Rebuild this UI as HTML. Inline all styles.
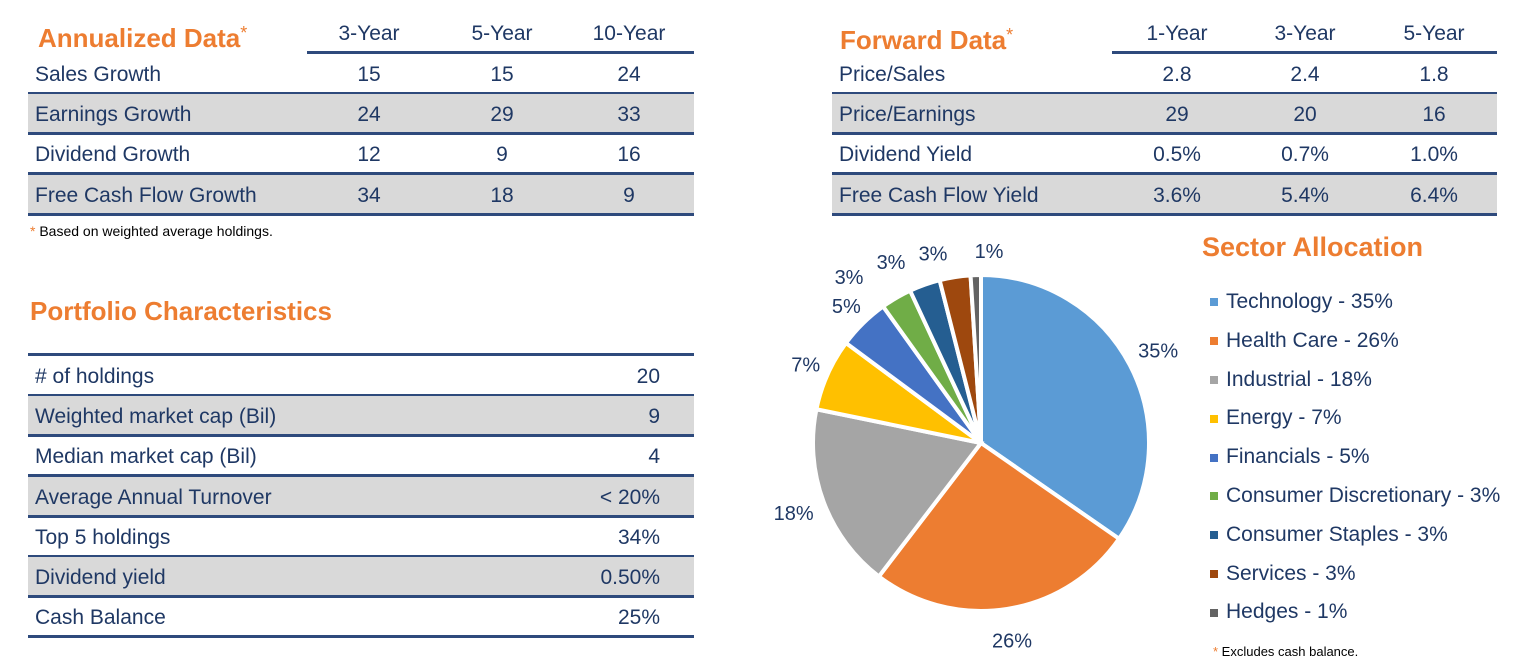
<!DOCTYPE html>
<html><head><meta charset="utf-8"><style>
body{margin:0;width:1526px;height:666px;background:#fff;font-family:"Liberation Sans",sans-serif;color:#1f3864;position:relative;overflow:hidden}
.abs{position:absolute}
.title{color:#ed7d31;font-weight:bold;font-size:26px}
.ast{color:#ed7d31;font-weight:normal;font-size:18px;vertical-align:top}
.row{position:absolute;height:38px;border-bottom:3px solid #2e4a7c;font-size:21px;line-height:42px}
.row.g{background:#d9d9d9}
.row span{position:absolute;top:0}
.c{transform:translateX(-50%)}
.hdr{position:absolute;font-size:21px}
</style></head><body>
<div class="abs title" style="left:38px;top:23px">Annualized Data<span class="ast">*</span></div>
<div class="abs" style="left:307px;top:51px;width:387px;height:3px;background:#2e4a7c"></div>
<div class="hdr c" style="left:369px;top:22px">3-Year</div>
<div class="hdr c" style="left:502px;top:22px">5-Year</div>
<div class="hdr c" style="left:629px;top:22px">10-Year</div>
<div id="ann"></div>
<div class="abs" style="left:30px;top:223px;font-size:14px;color:#000"><span style="color:#ed7d31">*</span> Based on weighted average holdings.</div>

<div class="abs title" style="left:840px;top:25px">Forward Data<span class="ast">*</span></div>
<div class="abs" style="left:1112px;top:51px;width:385px;height:3px;background:#2e4a7c"></div>
<div class="hdr c" style="left:1177px;top:22px">1-Year</div>
<div class="hdr c" style="left:1305px;top:22px">3-Year</div>
<div class="hdr c" style="left:1434px;top:22px">5-Year</div>
<div id="fwd"></div>

<div class="abs title" style="left:30px;top:296px">Portfolio Characteristics</div>
<div class="abs" style="left:28px;top:353px;width:666px;height:3px;background:#2e4a7c"></div>
<div id="port"></div>

<div class="abs title" style="left:1202px;top:232px;font-size:27px">Sector Allocation</div>
<svg class="abs" style="left:0;top:0" width="1526" height="666" id="pie"></svg>
<div id="legend"></div>
<div class="abs" style="left:1213px;top:644px;font-size:13px;color:#000"><span style="color:#ed7d31">*</span> Excludes cash balance.</div>

<script>
const annLabels=["Sales Growth","Earnings Growth","Dividend Growth","Free Cash Flow Growth"];
const ann3=["15","24","12","34"],ann5=["15","29","9","18"],ann10=["24","33","16","9"];
const fwdLabels=["Price/Sales","Price/Earnings","Dividend Yield","Free Cash Flow Yield"];
const fwd1=["2.8","29","0.5%","3.6%"],fwd3=["2.4","20","0.7%","5.4%"],fwd5=["1.8","16","1.0%","6.4%"];
const portLabels=["# of holdings","Weighted market cap (Bil)","Median market cap (Bil)","Average Annual Turnover","Top 5 holdings","Dividend yield","Cash Balance"];
const portValues=["20","9","4","< 20%","34%","0.50%","25%"];
const sectors=["Technology","Health Care","Industrial","Energy","Financials","Consumer Discretionary","Consumer Staples","Services","Hedges"];
const sectorValues=[35,26,18,7,5,3,3,3,1];
const sectorColors=["#5b9bd5","#ed7d31","#a5a5a5","#ffc000","#4472c4","#70ad47","#255e91","#9e480e","#636363"];

function table(id,left,width,top,labels,cols,xs,name){
  const host=document.getElementById(id);
  labels.forEach((l,i)=>{
    const r=document.createElement('div');
    r.className='row'+(i%2?' g':'');
    
    
    r.style.left=left+'px';r.style.width=width+'px';r.style.top=(top+i*40.2)+'px';
    const s=document.createElement('span');s.textContent=l;s.style.left='7px';
    
    
    r.appendChild(s);
    cols.forEach((c,j)=>{
      const v=document.createElement('span');v.textContent=c[i];
      
      
      if(xs[j]<0){v.style.right=(-xs[j])+'px';}else{v.className='c';v.style.left=(xs[j]-left)+'px';}
      r.appendChild(v);
    });
    host.appendChild(r);
  });
}
table('ann',28,666,54,annLabels,[ann3,ann5,ann10],[369,502,629],'annualized');
table('fwd',832,665,54,fwdLabels,[fwd1,fwd3,fwd5],[1177,1305,1434],'forward');
table('port',28,666,356,portLabels,[portValues],[-34],'portfolio');

const svg=document.getElementById('pie');const NS='http://www.w3.org/2000/svg';
const cx=981,cy=443,R=168;
const total=sectorValues.reduce((a,b)=>a+b,0);
let acc=0;
const pt=(a,r)=>[cx+r*Math.sin(a),cy-r*Math.cos(a)];
const labelPos=[];
sectorValues.forEach((v,i)=>{
  const a0=acc/total*2*Math.PI;acc+=v;const a1=acc/total*2*Math.PI;
  const p0=pt(a0,R),p1=pt(a1,R);
  const p=document.createElementNS(NS,'path');
  p.setAttribute('d',`M${cx},${cy}L${p0[0]},${p0[1]}A${R},${R} 0 ${a1-a0>Math.PI?1:0} 1 ${p1[0]},${p1[1]}Z`);
  p.setAttribute('fill',sectorColors[i]);p.setAttribute('stroke','#fff');p.setAttribute('stroke-width','4');
  
  
  svg.appendChild(p);
  const am=(a0+a1)/2;labelPos.push(pt(am,R+(v<10?24:32)));
});
// resolve collisions among top labels (walk backward from last slice)
for(let i=labelPos.length-2;i>=0;i--){
  const a=labelPos[i],b=labelPos[i+1];
  if(Math.abs(a[1]-b[1])<24 && b[0]-a[0]<42){a[0]=b[0]-42; a[1]=Math.max(a[1],b[1]);}
}
labelPos[labelPos.length-1][0]+=14;
labelPos.forEach((lp,i)=>{
  const t=document.createElementNS(NS,'text');
  t.setAttribute('x',lp[0]);t.setAttribute('y',lp[1]+7);t.setAttribute('text-anchor','middle');
  t.setAttribute('font-size','20');t.setAttribute('fill','#1f3864');t.setAttribute('font-family','Liberation Sans, sans-serif');
  t.textContent=sectorValues[i]+'%';
  
  
  svg.appendChild(t);
});
const lg=document.getElementById('legend');
sectors.forEach((s,i)=>{
  const e=document.createElement('div');
  e.className='abs';e.style.left='1210px';e.style.top=(290+i*38.8)+'px';e.style.fontSize='21px';e.style.whiteSpace='nowrap';
  
  
  e.innerHTML=`<span style="display:inline-block;width:8px;height:8px;background:${sectorColors[i]};margin-right:8px;vertical-align:middle"></span>${s} - ${sectorValues[i]}%`;
  lg.appendChild(e);
});
</script>
</body></html>
